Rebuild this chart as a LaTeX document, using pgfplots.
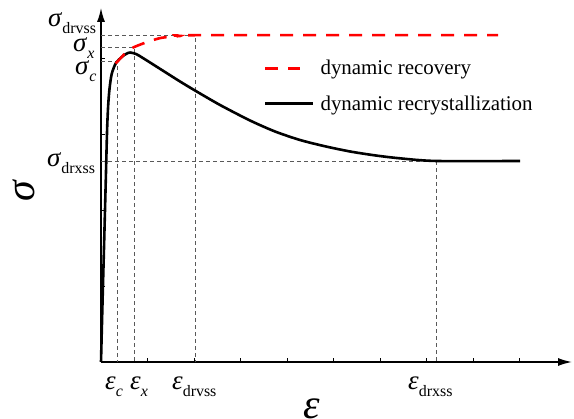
\documentclass[border=0pt]{standalone}
\usepackage{fontspec}
\setmainfont{Liberation Serif}
\usepackage{pgfplots}
\pgfplotsset{compat=1.18}
\usetikzlibrary{arrows.meta}
\newcommand{\fs}[1]{\fontsize{#1}{#1}\selectfont}
\newcommand{\lab}[3]{{\fs{#1}\textit{#2}}{\fs{16}\raisebox{-7bp}{#3}}}
\pgfplotsset{
  longleg/.style={legend image code/.code={\draw[##1] (0bp,0bp) -- (48bp,0bp); \path (54bp,0bp);}},
  shortleg/.style={legend image code/.code={\draw[##1] (0bp,0bp) -- (35bp,0bp); \path (54bp,0bp);}},
}
\begin{document}
\begin{tikzpicture}
\begin{axis}[
  x=46.5bp, y=76bp,
  xmin=0, xmax=10.13, ymin=0, ymax=4.66,
  axis lines=left,
  axis line style={line width=1.6bp, -{Latex[length=14bp,width=8bp]}},
  xtick={1,...,9}, ytick={1,2,3,4},
  xticklabels={}, yticklabels={},
  tick align=inside, major tick length=4bp,
  tick style={line width=0.8bp, black},
  clip=false,
  legend style={at={(axis cs:3.50,3.97)}, anchor=north west, draw=none, fill=none,
    inner sep=0pt, row sep=19bp, font=\fs{21},
    nodes={inner sep=0pt, anchor=west}},
  legend cell align=left,
  longleg,
]
% reference lines
\addplot[forget plot, black!65, line width=0.8bp, dash pattern=on 4bp off 3bp] coordinates {(0,4.30) (2.04,4.30) (2.04,0)};
\addplot[forget plot, black!65, line width=0.8bp, dash pattern=on 4bp off 3bp] coordinates {(0,4.14) (0.71,4.14) (0.71,0)};
\addplot[forget plot, black!65, line width=0.8bp, dash pattern=on 4bp off 3bp] coordinates {(0,3.95) (0.355,3.95) (0.355,0)};
\addplot[forget plot, black!65, line width=0.8bp, dash pattern=on 4bp off 3bp] coordinates {(0,2.645) (7.22,2.645) (7.22,0)};
% dynamic recrystallization
\addplot[forget plot, black, line width=2.6bp, smooth, tension=0.45] coordinates {
(0,0) (0.034,0.816) (0.069,1.605) (0.103,2.395) (0.131,3.053) (0.155,3.382)
(0.185,3.605) (0.230,3.789) (0.316,3.928) (0.445,4.013) (0.538,4.053) (0.624,4.072)
(0.753,4.053) (0.882,4.007) (1.054,3.941) (1.376,3.816) (1.699,3.691) (2.022,3.572)
(2.559,3.382) (3.204,3.178) (3.742,3.033) (4.280,2.921) (4.82,2.838) (5.355,2.770)
(5.90,2.718) (6.430,2.680) (7.204,2.645) (9.011,2.645)};
% dynamic recovery
\addplot[red, line width=2.6bp, dash pattern=on 13bp off 10bp, smooth, tension=0.45, shortleg] coordinates {
(0.316,3.928) (0.445,4.013) (0.581,4.099) (0.731,4.149) (1.011,4.214) (1.305,4.266)
(1.699,4.289) (2.043,4.30) (8.54,4.30)};
\addlegendentry{dynamic recovery}
\addlegendimage{black, line width=2.6bp}
\addlegendentry{dynamic recrystallization}
\end{axis}
% labels (axis origin at (0,0))
\node[anchor=base west, inner sep=0] at (-53bp,335bp) {\lab{27}{σ}{drvss}};
\node[anchor=base west, inner sep=0] at (-28bp,310bp) {\lab{27}{σ}{\textit{x}}};
\node[anchor=base west, inner sep=0] at (-26bp,287bp) {\lab{27}{σ}{\textit{c}}};
\node[anchor=base west, inner sep=0] at (-54bp,195bp) {\lab{27}{σ}{drxss}};
\node[anchor=base west, inner sep=0] at (4bp,-27bp) {\lab{27}{ε}{\textit{c}}};
\node[anchor=base west, inner sep=0] at (29bp,-27bp) {\lab{27}{ε}{\textit{x}}};
\node[anchor=base west, inner sep=0] at (71bp,-27bp) {\lab{27}{ε}{drvss}};
\node[anchor=base west, inner sep=0] at (307bp,-27bp) {\lab{27}{ε}{drxss}};
\node[anchor=base west, inner sep=0] at (202bp,-56bp) {\fs{42}\textit{ε}};
\node[anchor=base, rotate=90, inner sep=0] at (-66bp,171bp) {\fs{42}\textit{σ}};
\pgfresetboundingbox
\path[use as bounding box] (-101bp,-57bp) rectangle (473bp,362bp);
\end{tikzpicture}
\end{document}
